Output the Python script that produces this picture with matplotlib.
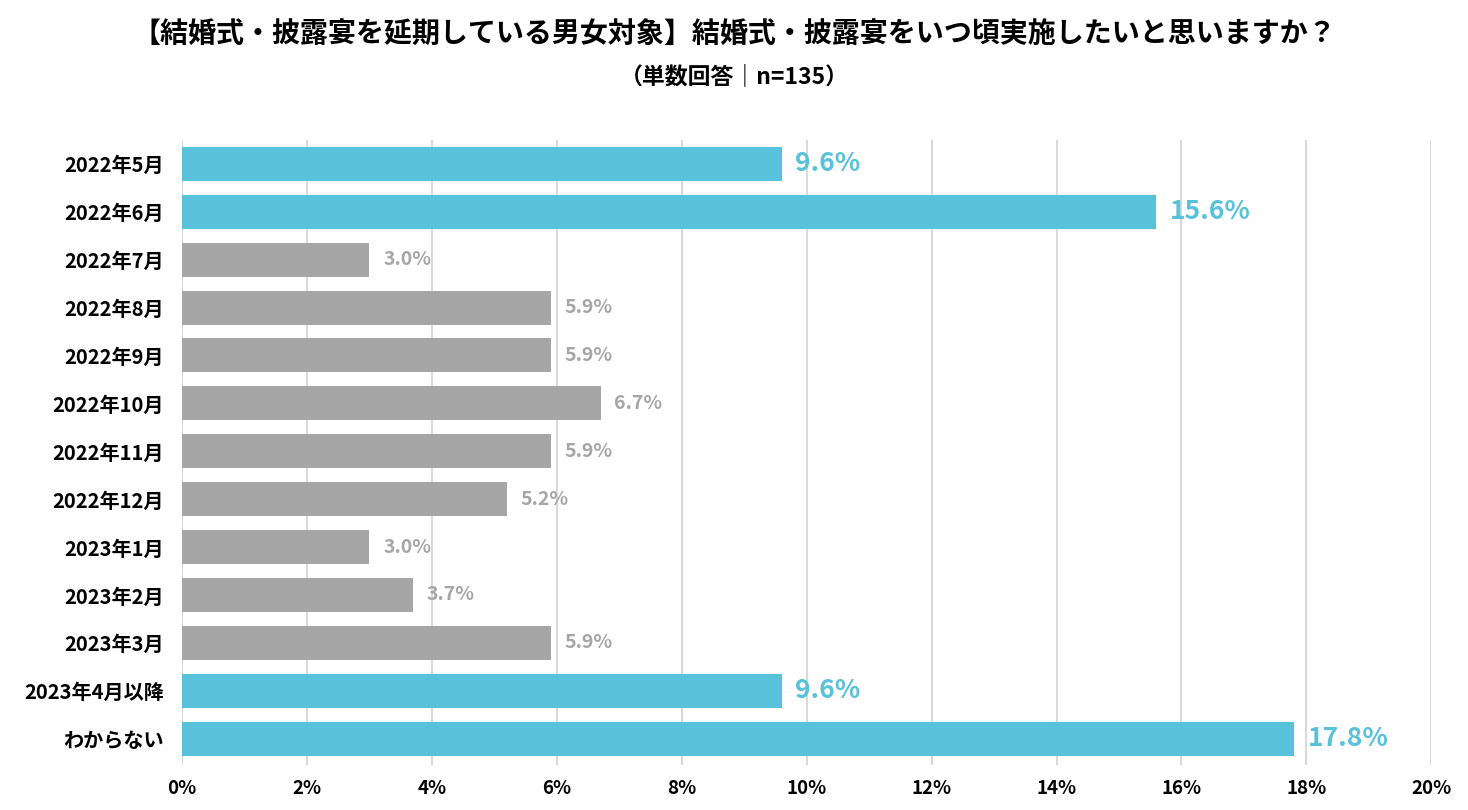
import matplotlib.pyplot as plt

plt.rcParams['font.family'] = ['Noto Sans CJK JP', 'DejaVu Sans']

categories = ['2022年5月', '2022年6月', '2022年7月', '2022年8月', '2022年9月',
              '2022年10月', '2022年11月', '2022年12月', '2023年1月', '2023年2月',
              '2023年3月', '2023年4月以降', 'わからない']
values = [9.6, 15.6, 3.0, 5.9, 5.9, 6.7, 5.9, 5.2, 3.0, 3.7, 5.9, 9.6, 17.8]
highlight = [True, True, False, False, False, False, False, False, False, False,
             False, True, True]
xticks = [0, 2, 4, 6, 8, 10, 12, 14, 16, 18, 20]

blue = '#57C2D9'
gray = '#A6A6A6'

fig = plt.figure(figsize=(14.68, 8.10), dpi=100)
ax = fig.add_axes([0.124, 0.0556, 0.851, 0.7716])

ypos = list(range(len(categories)))
colors = [blue if h else gray for h in highlight]
ax.barh(ypos, values, height=0.71, color=colors, zorder=3)

for y, v, h in zip(ypos, values, highlight):
    if h:
        ax.text(v + 0.22, y, f'{v:.1f}%', va='center', ha='left',
                fontsize=19, fontweight='bold', color=blue)
    else:
        ax.text(v + 0.22, y, f'{v:.1f}%', va='center', ha='left',
                fontsize=14, fontweight='bold', color=gray)

ax.set_xlim(0, 20)
ax.set_ylim(12.55, -0.5)
ax.set_xticks(xticks)
ax.set_xticklabels([f'{t}%' for t in xticks], fontsize=13.5, fontweight='bold')
ax.set_yticks(ypos)
ax.set_yticklabels(categories, fontsize=14.5, fontweight='bold')
ax.tick_params(axis='both', length=0)
ax.tick_params(axis='y', pad=13)
ax.tick_params(axis='x', pad=10)
ax.grid(axis='x', color='#D9D9D9', linewidth=1.5, zorder=0)
for s in ax.spines.values():
    s.set_visible(False)

fig.text(0.5, 0.958, '【結婚式・披露宴を延期している男女対象】結婚式・披露宴をいつ頃実施したいと思いますか？',
         ha='center', va='center', fontsize=20.2, fontweight='bold')
fig.text(0.5, 0.906, '（単数回答｜n=135）', ha='center', va='center',
         fontsize=16.5, fontweight='bold')

fig.savefig('out.png', dpi=100, facecolor='white')
